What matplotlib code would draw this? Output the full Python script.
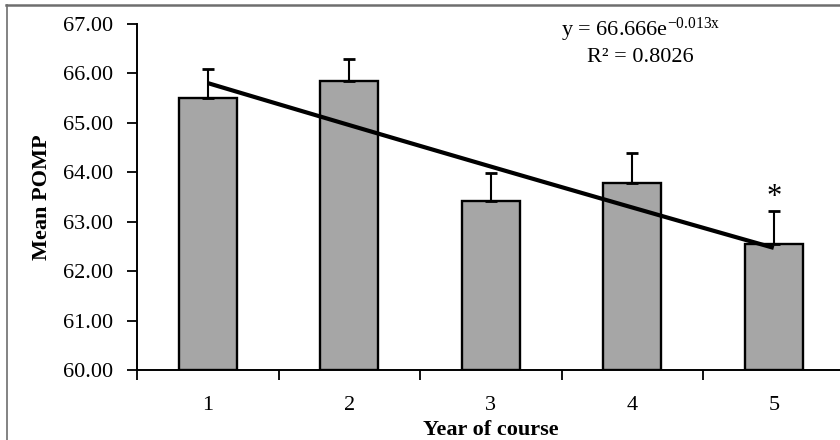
import numpy as np
import matplotlib
matplotlib.use('Agg')
import matplotlib.pyplot as plt
from matplotlib.lines import Line2D

plt.rcParams['font.family'] = ['Liberation Serif', 'DejaVu Serif']
plt.rcParams['mathtext.fontset'] = 'custom'
plt.rcParams['mathtext.rm'] = 'Liberation Serif'
plt.rcParams['mathtext.it'] = 'Liberation Serif'

# Mean POMP score by year of course, with upper error bars
years = [1, 2, 3, 4, 5]
year_labels = ['1', '2', '3', '4', '5']
mean_pomp = [65.50, 65.85, 63.42, 63.79, 62.55]
pomp_err = [0.59, 0.45, 0.57, 0.60, 0.67]

# Exponential trend reported for the means
trend_a = 66.666
trend_b = -0.013
r_squared = 0.8026

fig = plt.figure(figsize=(8.4, 4.4), dpi=100)
ax = fig.add_axes([137 / 840, 1 - 370 / 440, 707.5 / 840, 346 / 440])

ax.bar(years, [m - 60 for m in mean_pomp], bottom=60, width=0.41,
       color='#a6a6a6', edgecolor='black', linewidth=1.7, zorder=2)
ax.errorbar(years, mean_pomp, yerr=[np.zeros(len(pomp_err)), pomp_err],
            fmt='none', ecolor='black', elinewidth=1.5, capsize=4.5,
            capthick=2, zorder=3)

xs = np.linspace(years[0], years[-1], 50)
ax.plot(xs, trend_a * np.exp(trend_b * xs), color='black', linewidth=3,
        solid_capstyle='butt', zorder=4)

ax.text(years[-1], 63.5, '*', ha='center', va='center', fontsize=22)

ax.text(4.06, 66.88, r'y = 66.666e$^{-0.013x}$', ha='center', va='center',
        fontsize=16)
ax.text(4.06, 66.33, 'R\u00b2 = %.4f' % r_squared, ha='center', va='center',
        fontsize=16)

ax.set_xlim(0.5, 5.5)
ax.set_ylim(60, 67)
ax.set_yticks(np.arange(60, 67.5, 1))
ax.set_yticklabels(['%.2f' % v for v in np.arange(60, 67.5, 1)])
ax.set_xticks(np.arange(0.5, 5.6, 1))
ax.set_xticklabels([])
ax.set_xticks(years, minor=True)
ax.set_xticklabels(year_labels, minor=True)

ax.tick_params(axis='y', direction='out', length=7, width=1.3, pad=10,
               labelsize=16)
ax.tick_params(axis='x', which='major', direction='out', length=7, width=1.3)
ax.tick_params(axis='x', which='minor', length=0, pad=19, labelsize=16)

for side in ['top', 'right']:
    ax.spines[side].set_visible(False)
for side in ['left', 'bottom']:
    ax.spines[side].set_linewidth(1.4)

ax.set_xlabel('Year of course', fontsize=16, fontweight='bold', labelpad=3)
ax.set_ylabel('Mean POMP', fontsize=16, fontweight='bold', labelpad=8)

# thin frame along the top and left edges
fig.add_artist(Line2D([6 / 840, 1], [1 - 5 / 440, 1 - 5 / 440],
                      transform=fig.transFigure, color='#6e6e6e', linewidth=1.8))
fig.add_artist(Line2D([6.5 / 840, 6.5 / 840], [0, 1 - 5 / 440],
                      transform=fig.transFigure, color='#6e6e6e', linewidth=1.2))

fig.savefig('out.png', dpi=100)
